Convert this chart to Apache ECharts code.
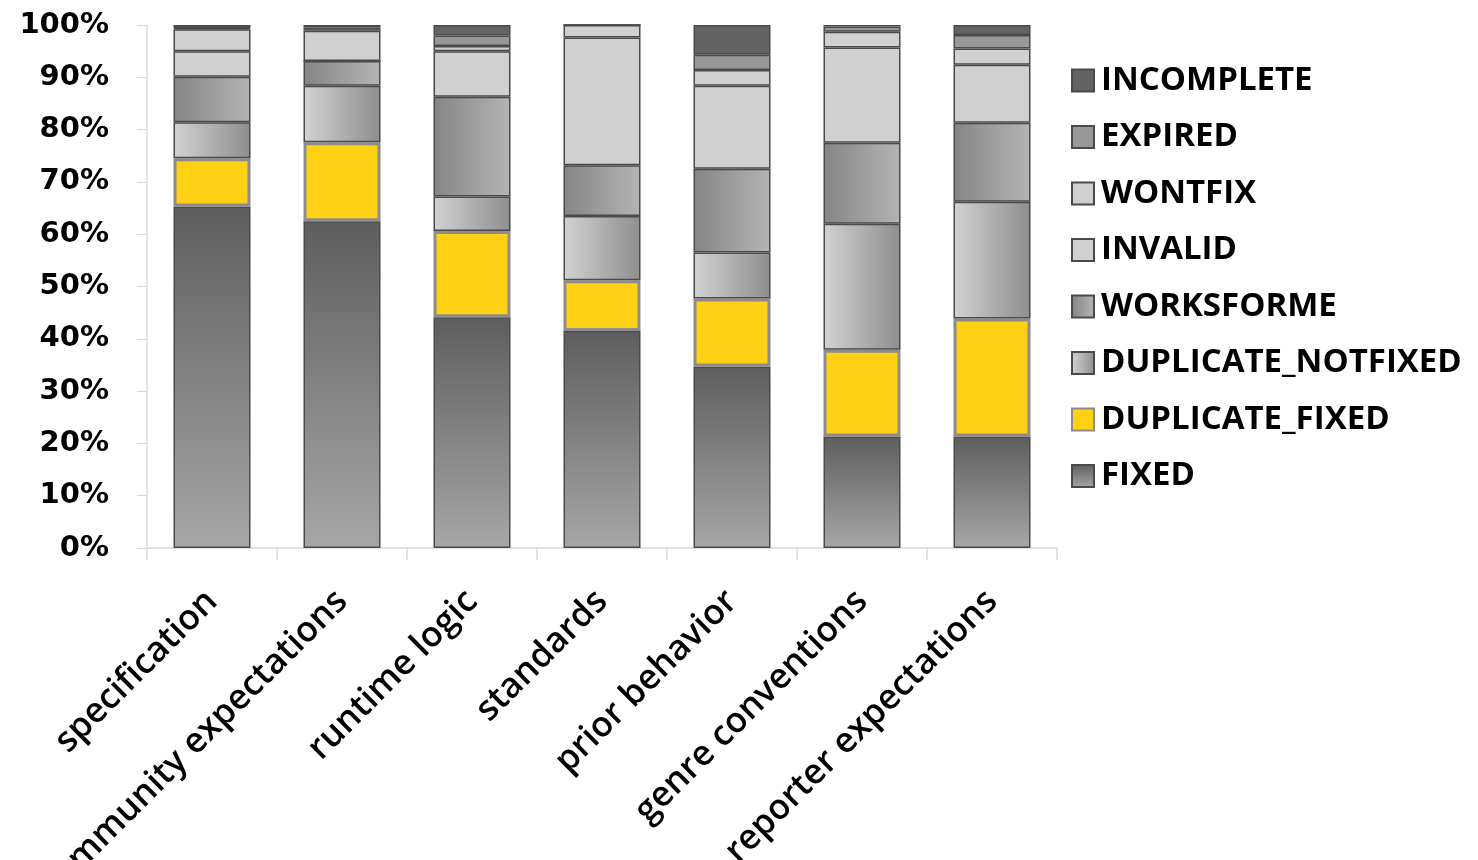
<!DOCTYPE html>
<html>
<head>
<meta charset="utf-8">
<script src="https://cdn.jsdelivr.net/npm/echarts@6/dist/echarts.min.js"></script>
<style>
  html, body { margin: 0; padding: 0; background: #fff; }
  #chart_1 { width: 1478px; height: 860px; }
</style>
</head>
<body>
<div id="chart_1"></div>
<script>
// categories and percent shares (bottom to top)
const categories = ['specification', 'community expectations', 'runtime logic', 'standards',
  'prior behavior', 'genre conventions', 'reporter expectations'];
const fixed = [65.3, 62.5, 44.1, 41.5, 34.7, 21.3, 21.3];
const duplicateFixed = [9.2, 15.1, 16.5, 9.7, 13.0, 16.6, 22.6];
const duplicateNotfixed = [6.9, 10.8, 6.6, 12.3, 8.8, 24.1, 22.3];
const worksforme = [8.7, 4.7, 19.1, 9.7, 16.0, 15.5, 15.1];
const invalid = [4.9, 0.0, 8.7, 24.4, 15.9, 18.2, 11.1];
const wontfix = [4.2, 5.8, 1.0, 2.4, 3.0, 3.0, 3.1];
const expired = [0.2, 0.6, 2.0, 0.0, 2.9, 1.0, 2.6];
const incomplete = [0.6, 0.5, 2.0, 0.0, 5.7, 0.3, 1.9];
const yTicks = [0, 10, 20, 30, 40, 50, 60, 70, 80, 90, 100];

const borderC = '#4a4a4a';

function vGrad(top, bottom) {
  return { type: 'linear', x: 0, y: 0, x2: 0, y2: 1,
    colorStops: [{ offset: 0, color: top }, { offset: 1, color: bottom }] };
}
function hGrad(left, right) {
  return { type: 'linear', x: 0, y: 0, x2: 1, y2: 0,
    colorStops: [{ offset: 0, color: left }, { offset: 1, color: right }] };
}

const seriesDefs = [
  { name: 'FIXED', data: fixed, color: vGrad('#5e5e5e', '#a6a6a6') },
  { name: 'DUPLICATE_FIXED', data: duplicateFixed, color: '#ffd014', border: '#8c8c8c', bw: 3 },
  { name: 'DUPLICATE_NOTFIXED', data: duplicateNotfixed, color: hGrad('#d2d2d2', '#8e8e8e') },
  { name: 'WORKSFORME', data: worksforme, color: hGrad('#858585', '#b4b4b4') },
  { name: 'INVALID', data: invalid, color: '#d0d0d0' },
  { name: 'WONTFIX', data: wontfix, color: '#d0d0d0' },
  { name: 'EXPIRED', data: expired, color: '#989898' },
  { name: 'INCOMPLETE', data: incomplete, color: '#636363' }
];

const seriesData = seriesDefs.map(s => ({
  name: s.name,
  type: 'bar',
  stack: 'total',
  barWidth: 77,
  animation: false,
  data: s.data,
  itemStyle: {
    color: s.color,
    borderColor: s.border || borderC,
    borderWidth: s.bw || 1.5
  }
}));

const chart = echarts.init(document.getElementById('chart_1'), null, { renderer: 'canvas' });
chart.setOption({
  backgroundColor: '#fff',
  grid: { left: 147, right: 421, top: 25, bottom: 312, containLabel: false, outerBoundsMode: 'none' },
  legend: {
    orient: 'vertical',
    left: 1066,
    top: 59,
    icon: 'rect',
    itemWidth: 22,
    itemHeight: 22,
    itemGap: 23.5,
    data: seriesDefs.map(s => s.name).reverse(),
    textStyle: {
      fontFamily: '"Open Sans", sans-serif', fontSize: 33, lineHeight: 33,
      fontWeight: 'bold', color: '#000', padding: [0, 0, 0, 2]
    }
  },
  xAxis: {
    type: 'category',
    data: categories,
    axisLine: { show: true, lineStyle: { color: '#d9d9d9', width: 1.5 } },
    axisTick: { show: true, length: 12, lineStyle: { color: '#d9d9d9', width: 1.5 } },
    axisLabel: {
      rotate: 45,
      margin: 48,
      interval: 0,
      fontFamily: '"Open Sans", sans-serif',
      fontWeight: 600,
      fontSize: 35,
      color: '#000'
    }
  },
  yAxis: {
    type: 'value',
    min: 0,
    max: 100,
    interval: 10,
    axisLine: { show: true, lineStyle: { color: '#d9d9d9', width: 1.5 } },
    axisTick: { show: true, length: 10, lineStyle: { color: '#d9d9d9' } },
    splitLine: { show: false },
    axisLabel: {
      margin: 38,
      fontFamily: '"DejaVu Sans", sans-serif',
      fontSize: 29,
      fontWeight: 'bold',
      color: '#000',
      formatter: v => (yTicks.indexOf(v) >= 0 ? v + '%' : '')
    }
  },
  series: seriesData
});
</script>
</body>
</html>
